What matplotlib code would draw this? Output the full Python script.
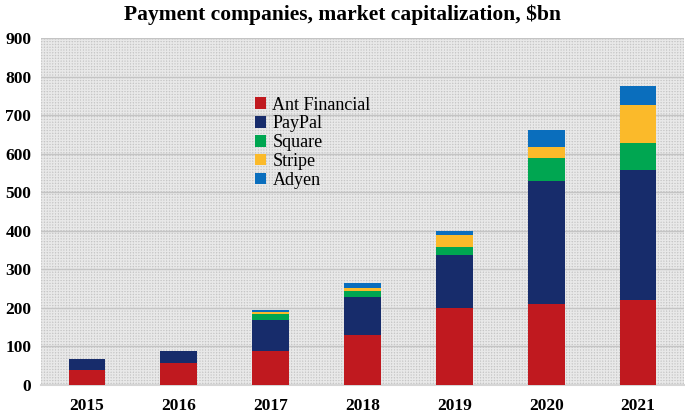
import numpy as np
import matplotlib.pyplot as plt

# market cap by company, $bn
years = ["2015", "2016", "2017", "2018", "2019", "2020", "2021"]
ant = [38, 58, 87, 130, 200, 210, 220]
paypal = [30, 31, 82, 99, 138, 318, 338]
square = [0, 0, 15, 15, 20, 60, 69]
stripe = [0, 0, 5, 8, 30, 29, 99]
adyen = [0, 0, 6, 12, 11, 45, 49]

names = ["Ant Financial", "PayPal", "Square", "Stripe", "Adyen"]
colors = ["#C0191F", "#172C6B", "#00A651", "#FBBA2A", "#0A6EBD"]

plt.rcParams['font.family'] = ['Liberation Serif', 'DejaVu Serif']

fig = plt.figure(figsize=(6.85, 4.12), dpi=100)
ax = fig.add_axes([41/685, 1 - 385/412, 643/685, 347/412])

ax.set_facecolor("#c6c6c6")
# dotted screen texture
ax.patch.set_hatch("++++++")
ax.patch.set_edgecolor("#e8e8e8")
ax.patch.set_linewidth(0)

x = np.arange(len(years))
bottom = np.zeros(len(years))
for vals, name, col in zip([ant, paypal, square, stripe, adyen], names, colors):
    ax.bar(x, vals, width=0.4, bottom=bottom, color=col, label=name, zorder=3)
    bottom += np.array(vals)

ax.set_ylim(0, 900)
ax.set_xlim(-0.5, 6.5)
ax.set_yticks(range(0, 901, 100))
ax.set_xticks(x)
ax.set_xticklabels(years)
ax.yaxis.grid(True, color="#c4c4c4", linewidth=1, zorder=1)
ax.set_axisbelow(True)
for s in ["top", "right", "left"]:
    ax.spines[s].set_visible(False)
ax.spines["bottom"].set_color("#d6d6d6")
ax.spines["bottom"].set_linewidth(1.5)
ax.tick_params(length=0, labelsize=12.5)
ax.tick_params(axis="x", pad=9)
ax.tick_params(axis="y", pad=7)
for lab in ax.get_xticklabels() + ax.get_yticklabels():
    lab.set_fontweight("bold")

ax.legend(loc="upper left", bbox_to_anchor=(0.322, 0.852), frameon=False,
          fontsize=13, handlelength=0.6, handleheight=0.6, handletextpad=0.35,
          labelspacing=0.1, borderaxespad=0)

fig.suptitle("Payment companies, market capitalization, $bn", fontsize=15.5,
             fontweight="bold", y=0.99, x=0.5)

fig.savefig("out.png", dpi=100)
